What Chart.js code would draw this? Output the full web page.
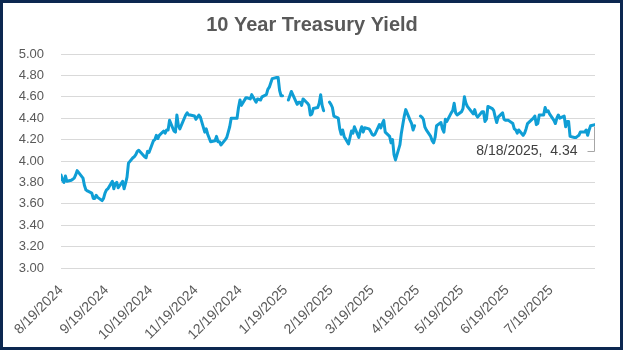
<!DOCTYPE html>
<html>
<head>
<meta charset="utf-8">
<title>10 Year Treasury Yield</title>
<script src="https://cdn.jsdelivr.net/npm/chart.js@4.4.1/dist/chart.umd.min.js"></script>
<style>
  html, body { margin: 0; padding: 0; background: #ffffff; }
  #frame {
    width: 623px; height: 350px; box-sizing: border-box;
    border: 3px solid #0c2850; background: #ffffff;
  }
  #box { position: relative; width: 617px; height: 344px; }
</style>
</head>
<body>
<div id="frame"><div id="box"><canvas id="yieldChart"></canvas></div></div>
<script>
// Trading days (blank = market holiday, leaves a gap in the line)
const dates = [
  '8/19/2024','8/20/2024','8/21/2024','8/22/2024','8/23/2024','8/26/2024','8/27/2024','8/28/2024','8/29/2024','8/30/2024',
  '9/3/2024','9/4/2024','9/5/2024','9/6/2024','9/9/2024','9/10/2024','9/11/2024','9/12/2024','9/13/2024','9/16/2024',
  '9/17/2024','9/18/2024','9/19/2024','9/20/2024','9/23/2024','9/24/2024','9/25/2024','9/26/2024','9/27/2024','9/30/2024',
  '10/1/2024','10/2/2024','10/3/2024','10/4/2024','10/7/2024','10/8/2024','10/9/2024','10/10/2024','10/11/2024','10/15/2024',
  '10/16/2024','10/17/2024','10/18/2024','10/21/2024','10/22/2024','10/23/2024','10/24/2024','10/25/2024','10/28/2024','10/29/2024',
  '10/30/2024','10/31/2024',
  '11/1/2024','11/4/2024','11/5/2024','11/6/2024','11/7/2024','11/8/2024','11/12/2024','11/13/2024','11/14/2024','11/15/2024',
  '11/18/2024','11/19/2024','11/20/2024','11/21/2024','11/22/2024','11/25/2024','11/26/2024','11/27/2024','11/29/2024',
  '12/2/2024','12/3/2024','12/4/2024','12/5/2024','12/6/2024','12/9/2024','12/10/2024','12/11/2024','12/12/2024','12/13/2024',
  '12/16/2024','12/17/2024','12/18/2024','12/19/2024','12/20/2024','12/23/2024','12/24/2024','12/26/2024','12/27/2024','12/30/2024',
  '12/31/2024',
  '1/2/2025','1/3/2025','1/6/2025','1/7/2025','1/8/2025','1/10/2025','1/13/2025','1/14/2025','1/15/2025','1/16/2025',
  '1/17/2025','1/20/2025','1/21/2025','1/22/2025','1/23/2025','1/24/2025','1/27/2025','1/28/2025','1/29/2025','1/30/2025',
  '1/31/2025',
  '2/3/2025','2/4/2025','2/5/2025','2/6/2025','2/7/2025','2/10/2025','2/11/2025','2/12/2025','2/13/2025','2/14/2025',
  '2/17/2025','2/18/2025','2/19/2025','2/20/2025','2/21/2025','2/24/2025','2/25/2025','2/26/2025','2/27/2025','2/28/2025',
  '3/3/2025','3/4/2025','3/5/2025','3/6/2025','3/7/2025','3/10/2025','3/11/2025','3/12/2025','3/13/2025','3/14/2025',
  '3/17/2025','3/18/2025','3/19/2025','3/20/2025','3/21/2025','3/24/2025','3/25/2025','3/26/2025','3/27/2025','3/28/2025',
  '3/31/2025',
  '4/1/2025','4/2/2025','4/3/2025','4/4/2025','4/7/2025','4/8/2025','4/9/2025','4/10/2025','4/11/2025','4/14/2025',
  '4/15/2025','4/16/2025','4/17/2025','4/18/2025','4/21/2025','4/22/2025','4/23/2025','4/24/2025','4/25/2025','4/28/2025',
  '4/29/2025','4/30/2025',
  '5/1/2025','5/2/2025','5/5/2025','5/6/2025','5/7/2025','5/8/2025','5/9/2025','5/12/2025','5/13/2025','5/14/2025',
  '5/15/2025','5/16/2025','5/19/2025','5/20/2025','5/21/2025','5/22/2025','5/23/2025','5/27/2025','5/28/2025','5/29/2025',
  '5/30/2025',
  '6/2/2025','6/3/2025','6/4/2025','6/5/2025','6/6/2025','6/9/2025','6/10/2025','6/11/2025','6/12/2025','6/13/2025',
  '6/16/2025','6/17/2025','6/18/2025','6/20/2025','6/23/2025','6/24/2025','6/25/2025','6/26/2025','6/27/2025','6/30/2025',
  '7/1/2025','7/2/2025','7/3/2025','7/7/2025','7/8/2025','7/9/2025','7/10/2025','7/11/2025','7/14/2025','7/15/2025',
  '7/16/2025','7/17/2025','7/18/2025','7/21/2025','7/22/2025','7/23/2025','7/24/2025','7/25/2025','7/28/2025','7/29/2025',
  '7/30/2025','7/31/2025',
  '8/1/2025','8/4/2025','8/5/2025','8/6/2025','8/7/2025','8/8/2025','8/11/2025','8/12/2025','8/13/2025','8/14/2025',
  '8/15/2025','8/18/2025'
];

const yields = [
  3.87, 3.82, 3.80, 3.86, 3.81, 3.82, 3.83, 3.84, 3.87, 3.91,
  3.84, 3.77, 3.73, 3.72, 3.70, 3.65, 3.65, 3.68, 3.66, 3.63,
  3.65, 3.70, 3.73, 3.74, 3.81, 3.74, 3.79, 3.80, 3.75, 3.81,
  3.74, 3.79, 3.85, 3.98, 4.03, 4.04, 4.06, 4.09, 4.10, 4.04,
  4.03, 4.09, 4.08, 4.19, 4.20, 4.24, 4.21, 4.24, 4.28, 4.26,
  4.29, 4.29,
  4.38, 4.28, 4.27, 4.43, 4.33, 4.30, 4.43, 4.45, 4.43, 4.43,
  4.42, 4.39, 4.41, 4.43, 4.41, 4.27, 4.30, 4.25, 4.18,
  4.19, 4.23, 4.18, 4.18, 4.15, 4.20, 4.22, 4.27, 4.32, 4.40,
  4.40, 4.40, 4.50, 4.57, 4.52, 4.59, 4.59, 4.58, 4.62, 4.55,
  4.58,
  4.57, 4.60, 4.62, 4.67, 4.69, 4.77, 4.78, 4.78, 4.66, 4.61,
  4.61, null, 4.57, 4.61, 4.65, 4.62, 4.53, 4.55, 4.55, 4.52,
  4.58,
  4.54, 4.52, 4.43, 4.44, 4.49, 4.50, 4.54, 4.62, 4.52, 4.47,
  null, 4.55, 4.53, 4.50, 4.42, 4.40, 4.30, 4.25, 4.29, 4.23,
  4.16, 4.22, 4.28, 4.26, 4.32, 4.22, 4.28, 4.32, 4.27, 4.31,
  4.30, 4.28, 4.25, 4.24, 4.25, 4.34, 4.31, 4.35, 4.38, 4.27,
  4.23,
  4.17, 4.20, 4.06, 4.01, 4.15, 4.26, 4.34, 4.42, 4.48, 4.38,
  4.35, 4.29, 4.33, null, 4.42, 4.41, 4.39, 4.32, 4.29, 4.23,
  4.19, 4.17,
  4.22, 4.33, 4.36, 4.30, 4.27, 4.39, 4.37, 4.45, 4.47, 4.54,
  4.45, 4.43, 4.46, 4.49, 4.60, 4.54, 4.51, 4.44, 4.48, 4.43,
  4.41,
  4.46, 4.46, 4.37, 4.39, 4.51, 4.49, 4.47, 4.41, 4.36, 4.41,
  4.45, 4.39, 4.38, 4.38, 4.35, 4.30, 4.29, 4.26, 4.29, 4.24,
  4.26, 4.30, 4.35, 4.40, 4.42, 4.34, 4.35, 4.43, 4.43, 4.50,
  4.46, 4.47, 4.44, 4.38, 4.35, 4.40, 4.43, 4.40, 4.42, 4.32,
  4.37, 4.37,
  4.23, 4.22, 4.22, 4.23, 4.24, 4.27, 4.27, 4.29, 4.24, 4.29,
  4.33, 4.34
];

const tickDates = [
  '8/19/2024', '9/19/2024', '10/19/2024', '11/19/2024', '12/19/2024', '1/19/2025',
  '2/19/2025', '3/19/2025', '4/19/2025', '5/19/2025', '6/19/2025', '7/19/2025'
];
const yTicks = [3.0, 3.2, 3.4, 3.6, 3.8, 4.0, 4.2, 4.4, 4.6, 4.8, 5.0];

const titleText = '10 Year Treasury Yield';

// days since the first date, used as the x value
function dayNum(s) {
  const [m, d, y] = s.split('/').map(Number);
  const [m0, d0, y0] = dates[0].split('/').map(Number);
  return Math.round((Date.UTC(y, m - 1, d) - Date.UTC(y0, m0 - 1, d0)) / 86400000);
}
function dateFromDay(n) {
  const [m0, d0, y0] = dates[0].split('/').map(Number);
  const dt = new Date(Date.UTC(y0, m0 - 1, d0) + n * 86400000);
  return (dt.getUTCMonth() + 1) + '/' + dt.getUTCDate() + '/' + dt.getUTCFullYear();
}

const points = dates.map((d, i) => ({ x: dayNum(d), y: yields[i] }));
const lastIdx = dates.length - 1;

const grey = '#595959';
const lineColor = '#0F9ED5';
const fontFamily = '"Liberation Sans", Arial, sans-serif';

// title centred on the whole canvas, not just the plot
const chartTitle = {
  id: 'chartTitle',
  afterDraw(chart) {
    const ctx = chart.ctx;
    ctx.save();
    ctx.fillStyle = grey;
    ctx.font = 'bold 20px ' + fontFamily;
    ctx.textAlign = 'center';
    ctx.textBaseline = 'middle';
    ctx.fillText(titleText, chart.width / 2 + 0.5, 22);
    ctx.restore();
  }
};

// callout for the final value with a small leader line
const lastLabel = {
  id: 'lastLabel',
  afterDatasetsDraw(chart) {
    const pt = chart.getDatasetMeta(0).data[lastIdx];
    const ctx = chart.ctx;
    const px = Math.round(pt.x) - 0.5, py = pt.y;
    const ly = Math.round(py + 26) + 0.5;
    ctx.save();
    ctx.strokeStyle = '#a6a6a6';
    ctx.lineWidth = 1;
    ctx.beginPath();
    ctx.moveTo(px, py + 2);
    ctx.lineTo(px, ly);
    ctx.lineTo(px - 7, ly);
    ctx.stroke();
    ctx.fillStyle = '#404040';
    ctx.font = '14px ' + fontFamily;
    ctx.textAlign = 'right';
    ctx.textBaseline = 'middle';
    ctx.fillText(dates[lastIdx] + ',  ' + yields[lastIdx].toFixed(2), px - 17, ly);
    ctx.restore();
  }
};

new Chart(document.getElementById('yieldChart'), {
  type: 'line',
  data: {
    datasets: [{
      label: titleText,
      data: points,
      borderColor: lineColor,
      borderWidth: 3,
      borderJoinStyle: 'round',
      borderCapStyle: 'round',
      pointRadius: 0,
      tension: 0,
      spanGaps: false
    }]
  },
  options: {
    responsive: true,
    maintainAspectRatio: false,
    animation: false,
    layout: { padding: { top: 51, right: 25, bottom: 0, left: 0 } },
    plugins: {
      legend: { display: false },
      tooltip: { enabled: false },
      title: { display: false }
    },
    scales: {
      x: {
        type: 'linear',
        min: 0,
        max: dayNum(dates[lastIdx]),
        grid: { display: false },
        border: { display: false },
        afterBuildTicks(scale) {
          scale.ticks = tickDates.map(d => ({ value: dayNum(d) }));
        },
        afterFit(scale) { scale.height = 79; },
        ticks: {
          autoSkip: false,
          minRotation: 45,
          maxRotation: 45,
          padding: 6,
          color: grey,
          font: { family: fontFamily, size: 14 },
          callback: v => dateFromDay(v)
        }
      },
      y: {
        min: 3,
        max: 5,
        grid: { color: '#d9d9d9', lineWidth: 1, drawTicks: false },
        border: { display: false },
        afterBuildTicks(scale) {
          scale.ticks = yTicks.map(v => ({ value: v }));
        },
        afterFit(scale) { scale.width = 58; },
        ticks: {
          padding: 17,
          color: grey,
          font: { family: fontFamily, size: 13 },
          callback: v => v.toFixed(2)
        }
      }
    }
  },
  plugins: [chartTitle, lastLabel]
});
</script>
</body>
</html>
